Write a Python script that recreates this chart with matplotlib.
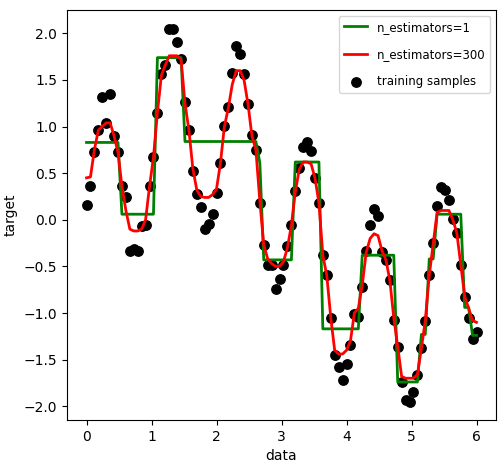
import matplotlib
matplotlib.use("Agg")
import matplotlib.pyplot as plt

# sample positions (evenly spaced from 0 to 6)
data_x = [
    0.000, 0.061, 0.121, 0.182, 0.242, 0.303, 0.364, 0.424, 0.485, 0.545,
    0.606, 0.667, 0.727, 0.788, 0.848, 0.909, 0.970, 1.030, 1.091, 1.152,
    1.212, 1.273, 1.333, 1.394, 1.455, 1.515, 1.576, 1.636, 1.697, 1.758,
    1.818, 1.879, 1.939, 2.000, 2.061, 2.121, 2.182, 2.242, 2.303, 2.364,
    2.424, 2.485, 2.545, 2.606, 2.667, 2.727, 2.788, 2.848, 2.909, 2.970,
    3.030, 3.091, 3.152, 3.212, 3.273, 3.333, 3.394, 3.455, 3.515, 3.576,
    3.636, 3.697, 3.758, 3.818, 3.879, 3.939, 4.000, 4.061, 4.121, 4.182,
    4.242, 4.303, 4.364, 4.424, 4.485, 4.545, 4.606, 4.667, 4.727, 4.788,
    4.848, 4.909, 4.970, 5.030, 5.091, 5.152, 5.212, 5.273, 5.333, 5.394,
    5.455, 5.515, 5.576, 5.636, 5.697, 5.758, 5.818, 5.879, 5.939, 6.000,
]

# training samples (black dots)
target = [
    0.16, 0.36, 0.73, 0.96, 1.32, 1.04, 1.35, 0.90, 0.73, 0.36,
    0.24, -0.34, -0.31, -0.33, -0.07, -0.06, 0.36, 0.67, 1.15, 1.56,
    1.66, 2.05, 2.05, 1.91, 1.73, 1.26, 0.96, 0.52, 0.28, 0.14,
    -0.10, -0.05, 0.06, 0.29, 0.61, 1.01, 1.21, 1.58, 1.86, 1.78,
    1.56, 1.24, 0.91, 0.75, 0.18, -0.27, -0.49, -0.48, -0.74, -0.63,
    -0.48, -0.28, -0.06, 0.31, 0.56, 0.78, 0.83, 0.74, 0.45, 0.18,
    -0.38, -0.59, -1.05, -1.45, -1.58, -1.72, -1.55, -1.34, -1.01, -1.04,
    -0.72, -0.34, -0.06, 0.12, 0.04, -0.35, -0.43, -0.65, -1.07, -1.36,
    -1.74, -1.93, -1.95, -1.85, -1.67, -1.38, -1.09, -0.59, -0.25, 0.15,
    0.35, 0.32, 0.21, 0.01, -0.14, -0.48, -0.83, -1.05, -1.28, -1.20,
]

# n_estimators=1 prediction (green)
pred_1 = (
    [0.83] * 9 + [0.06] * 9 + [1.74] * 7 + [0.84] * 19 + [0.61] * 1
    + [-0.43] * 8 + [0.62] * 7 + [-1.17] * 10 + [-0.38] * 9 + [-1.74] * 6
    + [-1.23] * 2 + [-0.42] * 2 + [0.06] * 7 + [-0.94] * 2 + [-1.24] * 2
)

# n_estimators=300 prediction (red)
pred_300 = [
    0.45, 0.46, 0.75, 0.96, 1.00, 1.04, 1.04, 0.90, 0.72, 0.36,
    0.10, -0.10, -0.12, -0.12, -0.10, 0.00, 0.36, 0.67, 1.15, 1.55,
    1.66, 1.76, 1.76, 1.76, 1.72, 1.25, 0.96, 0.55, 0.32, 0.25,
    0.24, 0.24, 0.27, 0.33, 0.61, 1.00, 1.20, 1.45, 1.60, 1.60,
    1.50, 1.24, 0.90, 0.75, 0.20, -0.27, -0.42, -0.47, -0.50, -0.50,
    -0.45, -0.30, -0.06, 0.30, 0.54, 0.62, 0.62, 0.60, 0.45, 0.18,
    -0.38, -0.60, -1.05, -1.40, -1.44, -1.44, -1.40, -1.30, -1.00, -0.95,
    -0.70, -0.35, -0.20, -0.15, -0.17, -0.33, -0.43, -0.65, -1.05, -1.36,
    -1.68, -1.70, -1.70, -1.70, -1.66, -1.38, -1.08, -0.60, -0.26, 0.08,
    0.10, 0.10, 0.10, 0.00, -0.14, -0.48, -0.82, -0.95, -1.08, -1.10,
]

fig = plt.figure(figsize=(4.98, 4.69), dpi=100)
ax = fig.add_axes([67 / 498, 49 / 469, 429 / 498, 410 / 469])

dots = ax.scatter(data_x, target, c="k", s=46, label="training samples")
l1, = ax.plot(data_x, pred_1, c="g", label="n_estimators=1", linewidth=2)
l2, = ax.plot(data_x, pred_300, c="r", label="n_estimators=300", linewidth=2)

ax.set_xlim(-0.3, 6.3)
ax.set_ylim(-2.148, 2.251)
ax.set_xlabel("data")
ax.set_ylabel("target")
ax.legend(handles=[l1, l2, dots], loc="upper right", fontsize=8.5,
          labelspacing=1.2, handlelength=2.0)

fig.savefig("out.png", dpi=100)
